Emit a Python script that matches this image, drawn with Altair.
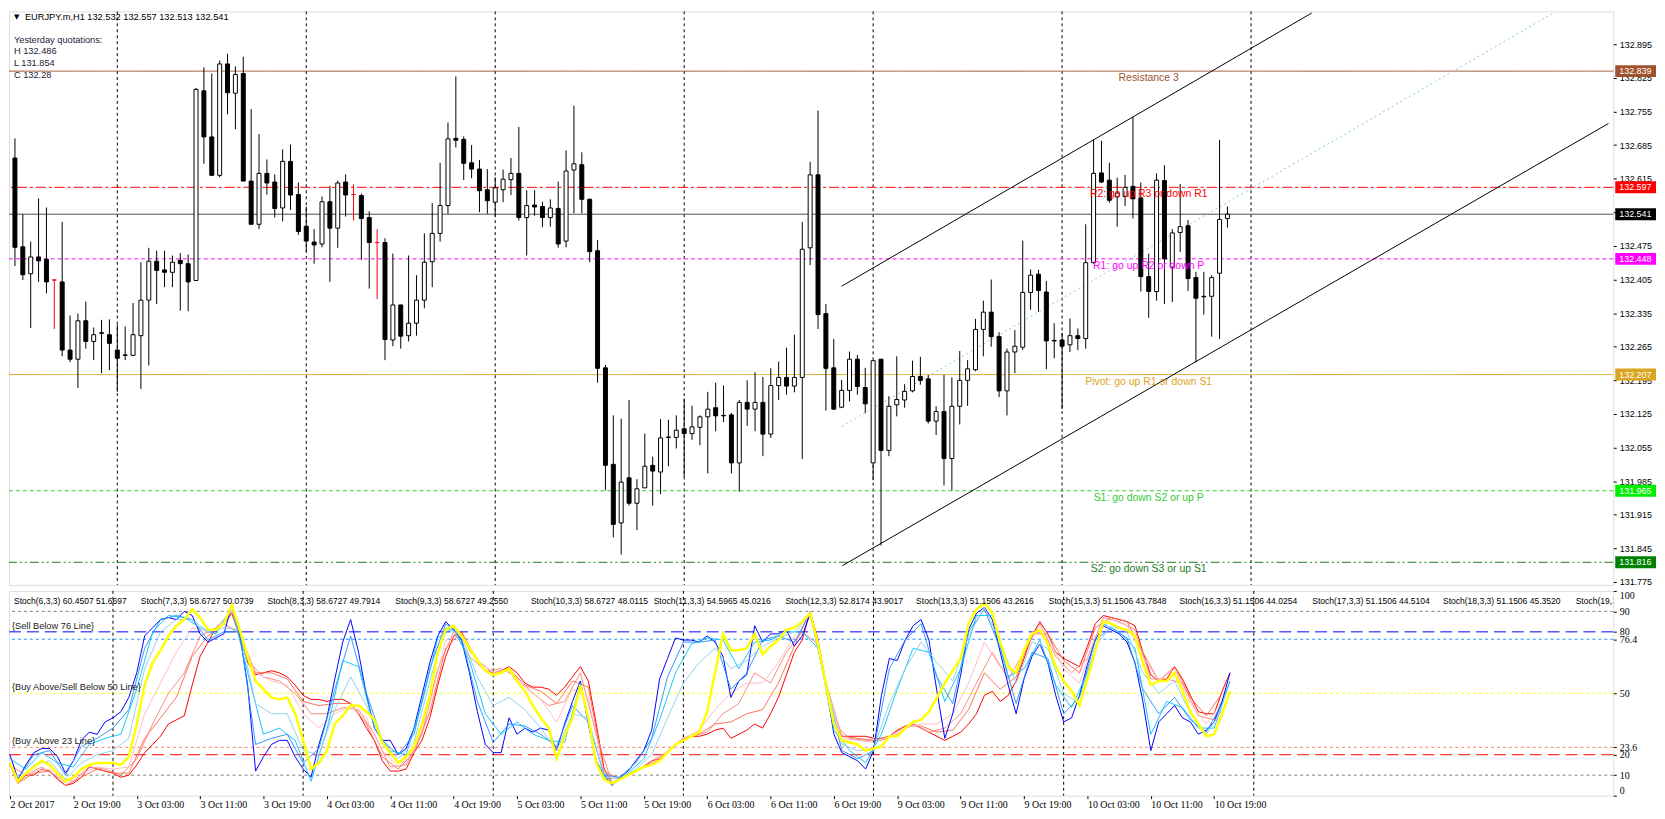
import json
import altair as alt
import pandas as pd

# ---------------- candle data (EURJPY H1) ----------------
OPEN = [132.658, 132.473, 132.417, 132.452, 132.447, 132.404, 132.400, 132.258, 132.239, 132.319,
        132.276, 132.294, 132.290, 132.258, 132.248, 132.247, 132.288, 132.362, 132.443, 132.425,
        132.420, 132.445, 132.438, 132.403, 132.798, 132.702, 132.622, 132.854, 132.793, 132.834,
        132.610, 132.520, 132.626, 132.608, 132.554, 132.651, 132.582, 132.516, 132.483, 132.479,
        132.567, 132.512, 132.608, 132.582, 132.580, 132.534, 132.482, 132.482, 132.279, 132.352,
        132.288, 132.314, 132.362, 132.442, 132.501, 132.559, 132.699, 132.697, 132.648, 132.635,
        132.592, 132.566, 132.592, 132.613, 132.626, 132.534, 132.560, 132.557, 132.534, 132.553,
        132.485, 132.633, 132.644, 132.572, 132.465, 132.221, 132.020, 131.898, 131.992, 131.939,
        131.971, 132.018, 132.004, 132.077, 132.076, 132.094, 132.084, 132.097, 132.119, 132.138,
        132.122, 132.123, 132.023, 132.149, 132.135, 132.149, 132.083, 132.184, 132.201, 132.183,
        132.201, 132.471, 132.623, 132.334, 132.221, 132.139, 132.174, 132.239, 132.180, 132.023,
        132.239, 132.049, 132.144, 132.154, 132.173, 132.203, 132.198, 132.110, 132.130, 132.032,
        132.141, 132.195, 132.217, 132.301, 132.337, 132.286, 132.173, 132.254, 132.264, 132.378,
        132.416, 132.379, 132.278, 132.279, 132.269, 132.288, 132.282, 132.440, 132.627, 132.612,
        132.577, 132.578, 132.599, 132.575, 132.411, 132.380, 132.611, 132.431, 132.503, 132.517,
        132.409, 132.370, 132.370, 132.418, 132.532]
HIGH = [132.699, 132.541, 132.484, 132.574, 132.555, 132.405, 132.525, 132.330, 132.334, 132.359,
        132.305, 132.321, 132.322, 132.311, 132.307, 132.356, 132.441, 132.471, 132.465, 132.465,
        132.455, 132.460, 132.457, 132.804, 132.847, 132.834, 132.861, 132.875, 132.849, 132.869,
        132.760, 132.708, 132.655, 132.624, 132.676, 132.686, 132.607, 132.557, 132.510, 132.578,
        132.600, 132.611, 132.624, 132.603, 132.584, 132.547, 132.510, 132.491, 132.459, 132.352,
        132.455, 132.414, 132.501, 132.564, 132.648, 132.732, 132.828, 132.703, 132.685, 132.654,
        132.635, 132.618, 132.634, 132.658, 132.723, 132.591, 132.591, 132.567, 132.572, 132.609,
        132.674, 132.767, 132.670, 132.574, 132.487, 132.227, 132.122, 132.115, 132.154, 131.989,
        132.084, 132.036, 132.114, 132.113, 132.122, 132.157, 132.142, 132.122, 132.171, 132.190,
        132.184, 132.127, 132.154, 132.195, 132.212, 132.202, 132.220, 132.234, 132.263, 132.290,
        132.525, 132.650, 132.757, 132.354, 132.281, 132.196, 132.255, 132.248, 132.221, 132.236,
        132.239, 132.162, 132.245, 132.187, 132.236, 132.244, 132.206, 132.141, 132.206, 132.201,
        132.256, 132.237, 132.323, 132.361, 132.405, 132.295, 132.261, 132.300, 132.486, 132.426,
        132.425, 132.402, 132.314, 132.294, 132.324, 132.303, 132.520, 132.697, 132.694, 132.648,
        132.617, 132.623, 132.744, 132.607, 132.459, 132.626, 132.643, 132.510, 132.604, 132.529,
        132.421, 132.421, 132.414, 132.696, 132.557]
LOW = [132.433, 132.404, 132.304, 132.400, 132.376, 132.302, 132.245, 132.233, 132.179, 132.261,
       132.237, 132.210, 132.216, 132.171, 132.237, 132.247, 132.177, 132.226, 132.354, 132.389,
       132.389, 132.340, 132.339, 132.403, 132.646, 132.622, 132.618, 132.749, 132.718, 132.610,
       132.520, 132.510, 132.582, 132.534, 132.526, 132.550, 132.498, 132.463, 132.438, 132.472,
       132.400, 132.471, 132.536, 132.528, 132.446, 132.386, 132.364, 132.237, 132.266, 132.261,
       132.276, 132.288, 132.345, 132.389, 132.484, 132.542, 132.680, 132.612, 132.616, 132.545,
       132.542, 132.536, 132.566, 132.581, 132.528, 132.455, 132.538, 132.514, 132.515, 132.471,
       132.472, 132.543, 132.543, 132.441, 132.190, 131.966, 131.868, 131.832, 131.934, 131.883,
       131.971, 131.934, 131.958, 132.016, 132.053, 131.994, 132.071, 132.060, 132.001, 132.089,
       132.108, 132.001, 131.963, 132.100, 132.089, 132.037, 132.075, 132.154, 132.165, 132.170,
       132.031, 132.435, 132.302, 132.132, 132.133, 132.137, 132.151, 132.165, 132.127, 131.987,
       131.851, 132.037, 132.120, 132.138, 132.170, 132.186, 132.105, 132.081, 131.976, 131.966,
       132.103, 132.142, 132.214, 132.245, 132.265, 132.160, 132.122, 132.210, 132.258, 132.342,
       132.338, 132.218, 132.241, 132.135, 132.254, 132.258, 132.261, 132.438, 132.606, 132.565,
       132.515, 132.558, 132.532, 132.380, 132.325, 132.361, 132.354, 132.358, 132.462, 132.381,
       132.233, 132.332, 132.286, 132.281, 132.513]
CLOSE = [132.472, 132.415, 132.452, 132.444, 132.400, 132.404, 132.258, 132.239, 132.319, 132.276,
         132.290, 132.293, 132.272, 132.241, 132.247, 132.290, 132.362, 132.443, 132.424, 132.420,
         132.441, 132.438, 132.400, 132.801, 132.702, 132.622, 132.854, 132.794, 132.832, 132.610,
         132.520, 132.626, 132.606, 132.553, 132.651, 132.581, 132.505, 132.485, 132.477, 132.567,
         132.512, 132.606, 132.581, 132.582, 132.532, 132.482, 132.482, 132.280, 132.352, 132.287,
         132.314, 132.362, 132.441, 132.501, 132.559, 132.698, 132.695, 132.647, 132.635, 132.590,
         132.569, 132.596, 132.614, 132.626, 132.534, 132.559, 132.556, 132.534, 132.554, 132.479,
         132.631, 132.646, 132.572, 132.463, 132.220, 132.018, 131.895, 131.983, 131.939, 131.969,
         132.016, 132.006, 132.075, 132.076, 132.091, 132.084, 132.098, 132.119, 132.135, 132.121,
         132.121, 132.023, 132.149, 132.135, 132.149, 132.083, 132.184, 132.201, 132.183, 132.201,
         132.468, 132.623, 132.332, 132.220, 132.135, 132.174, 132.239, 132.182, 132.146, 132.236,
         132.049, 132.141, 132.155, 132.172, 132.203, 132.195, 132.110, 132.130, 132.032, 132.141,
         132.195, 132.219, 132.301, 132.337, 132.286, 132.173, 132.254, 132.266, 132.378, 132.414,
         132.382, 132.277, 132.277, 132.266, 132.288, 132.282, 132.440, 132.626, 132.608, 132.570,
         132.585, 132.597, 132.573, 132.411, 132.380, 132.612, 132.448, 132.502, 132.515, 132.407,
         132.366, 132.369, 132.409, 132.530, 132.541]
RED_DOJI = [5, 43, 46]

# ---------------- stochastic ribbon ----------------
ALL_BARS = list(range(155))
EVEN_BARS = list(range(0, 155, 2))
ODD_BARS = list(range(1, 155, 2))
STOCH_BLUE = [20, 8, 15, 21, 23, 23, 19, 11, 17, 27, 31, 30, 36, 38, 41, 48, 60, 78, 82, 86,
              87, 86, 90, 88, 79, 75, 77, 79, 93, 79, 54, 12, 19, 25, 27, 27, 19, 13, 9, 25,
              38, 57, 75, 86, 70, 49, 33, 27, 27, 20, 23, 33, 49, 65, 78, 85, 81, 76, 60, 41,
              25, 21, 21, 38, 30, 33, 31, 33, 32, 22, 35, 46, 56, 35, 17, 10, 5, 9, 12, 17,
              22, 32, 57, 67, 77, 76, 76, 75, 78, 75, 68, 48, 56, 59, 83, 75, 79, 79, 81, 73,
              78, 89, 74, 54, 30, 21, 19, 17, 13, 22, 49, 67, 66, 76, 83, 86, 76, 51, 28, 40,
              59, 81, 89, 92, 86, 70, 54, 40, 57, 68, 74, 65, 49, 36, 38, 49, 64, 76, 83, 81,
              79, 75, 65, 46, 22, 36, 40, 44, 38, 36, 30, 32, 36, 46, 60]
STOCH_YELLOW = [16, 7, 11, 14, 17, 15, 11, 7, 9, 13, 15, 16, 16, 16, 15, 19, 35, 54, 65, 71,
                78, 83, 86, 91, 87, 81, 81, 84, 93, 81, 68, 56, 52, 48, 47, 48, 40, 27, 13, 16,
                22, 35, 39, 44, 44, 41, 37, 26, 21, 16, 19, 24, 35, 49, 70, 81, 83, 78, 72, 66,
                61, 59, 60, 62, 56, 51, 44, 38, 33, 18, 29, 38, 54, 38, 16, 8, 6, 8, 10, 12,
                14, 15, 17, 21, 25, 27, 29, 31, 41, 60, 79, 71, 71, 72, 79, 69, 73, 76, 81, 82,
                85, 89, 74, 54, 35, 27, 26, 25, 22, 23, 24, 29, 29, 33, 36, 37, 41, 48, 55, 61,
                67, 84, 91, 94, 89, 75, 63, 60, 71, 79, 81, 74, 63, 56, 51, 44, 57, 71, 85, 84,
                82, 81, 78, 65, 54, 56, 56, 60, 51, 41, 35, 29, 30, 40, 51]
STOCH_RED = [15, 6, 10, 10, 13, 12, 8, 5, 6, 9, 14, 13, 12, 11, 9, 10, 15, 21, 25, 29,
             35, 37, 39, 54, 68, 75, 82, 84, 89, 78, 65, 59, 60, 61, 60, 58, 54, 49, 47, 47,
             46, 47, 47, 45, 40, 33, 27, 17, 12, 12, 13, 21, 27, 38, 54, 68, 78, 80, 71, 66,
             61, 60, 61, 63, 60, 55, 53, 53, 52, 49, 53, 58, 63, 56, 35, 13, 6, 8, 10, 12,
             14, 17, 18, 21, 25, 28, 29, 29, 30, 32, 33, 28, 30, 32, 35, 33, 40, 48, 59, 70,
             76, 90, 76, 55, 35, 29, 29, 29, 29, 28, 28, 29, 32, 34, 35, 33, 31, 29, 27, 29,
             31, 35, 40, 49, 51, 46, 49, 56, 67, 78, 85, 79, 70, 67, 65, 63, 73, 84, 88, 87,
             86, 85, 83, 70, 59, 56, 57, 63, 57, 49, 41, 40, 40, 51, 60]
STOCH_LIGHTBLUE = [18, 13, 21, 16, 14, 25, 28, 30, 52, 80, 88, 87, 82, 79, 92, 60, 30, 33, 27, 7,
                   32, 66, 63, 33, 22, 20, 45, 77, 82, 66, 40, 30, 36, 30, 27, 26, 55, 16, 6, 11,
                   18, 37, 60, 74, 77, 76, 62, 75, 76, 80, 80, 72, 32, 22, 16, 30, 52, 72, 70, 46,
                   62, 88, 88, 58, 62, 76, 54, 43, 60, 84, 80, 72, 30, 46, 43, 33, 33, 56]
STOCH_SALMON = [15, 10, 14, 9, 7, 14, 13, 10, 18, 35, 50, 60, 78, 82, 90, 66, 58, 56, 50, 40,
                40, 43, 42, 30, 14, 15, 30, 62, 80, 68, 61, 62, 58, 50, 44, 46, 60, 30, 6, 10,
                14, 18, 25, 29, 31, 40, 45, 60, 55, 70, 80, 74, 35, 28, 27, 27, 30, 35, 31, 33,
                40, 55, 70, 57, 70, 84, 68, 60, 67, 87, 85, 81, 57, 57, 55, 39, 37, 56]
STOCH_MIDBLUE = [8, 20, 22, 10, 24, 28, 33, 42, 72, 86, 88, 86, 76, 80, 80, 25, 28, 30, 16, 23,
                 52, 78, 50, 27, 20, 30, 62, 84, 77, 46, 26, 35, 34, 30, 24, 44, 36, 10, 9, 16,
                 28, 58, 75, 75, 76, 52, 60, 76, 78, 75, 89, 54, 22, 18, 22, 62, 76, 84, 58, 45,
                 80, 91, 72, 45, 70, 67, 40, 48, 76, 82, 77, 52, 40, 48, 37, 31, 45]
STOCH_SKY = [7, 15, 17, 8, 16, 20, 22, 28, 62, 80, 86, 86, 80, 82, 81, 45, 40, 40, 22, 20,
             42, 58, 44, 26, 18, 26, 56, 82, 78, 58, 44, 48, 42, 33, 22, 40, 38, 9, 8, 13,
             20, 38, 55, 65, 72, 62, 66, 73, 77, 80, 89, 54, 25, 22, 23, 45, 62, 75, 65, 56,
             78, 92, 75, 55, 75, 72, 50, 45, 73, 83, 80, 60, 50, 56, 40, 30, 42]
STOCH_PINK = [6, 12, 13, 6, 11, 14, 13, 14, 40, 55, 70, 82, 80, 84, 80, 60, 56, 54, 40, 33,
              40, 44, 38, 22, 14, 22, 45, 76, 79, 66, 60, 62, 53, 47, 36, 52, 48, 10, 8, 12,
              16, 22, 28, 32, 42, 50, 55, 55, 65, 78, 89, 55, 28, 27, 26, 29, 33, 35, 35, 40,
              55, 75, 63, 60, 80, 78, 62, 55, 78, 86, 83, 68, 56, 62, 45, 35, 46]
STOCH_TOMATO = [6, 11, 12, 5, 9, 13, 11, 11, 28, 38, 48, 68, 78, 84, 79, 60, 60, 57, 46, 44,
                45, 45, 35, 19, 13, 21, 41, 72, 80, 66, 60, 62, 54, 51, 45, 56, 53, 12, 8, 12,
                17, 21, 28, 30, 35, 36, 40, 42, 55, 73, 90, 55, 29, 28, 27, 29, 34, 34, 31, 32,
                42, 60, 52, 58, 79, 79, 66, 60, 82, 87, 85, 70, 56, 63, 48, 39, 50]

STOCH_HEADER = ["Stoch(6,3,3) 60.4507 51.6697", "Stoch(7,3,3) 58.6727 50.0739",
                "Stoch(8,3,3) 58.6727 49.7914", "Stoch(9,3,3) 58.6727 49.2550",
                "Stoch(10,3,3) 58.6727 48.0115", "Stoch(11,3,3) 54.5965 45.0216",
                "Stoch(12,3,3) 52.8174 43.9017", "Stoch(13,3,3) 51.1506 43.2616",
                "Stoch(15,3,3) 51.1506 43.7848", "Stoch(16,3,3) 51.1506 44.0254",
                "Stoch(17,3,3) 51.1506 44.5104", "Stoch(18,3,3) 51.1506 45.3520",
                "Stoch(19,3,3)"]

# ---------------- levels / annotations ----------------
LEVEL_NAMES = ["Resistance 3", "R2: go up R3 or down R1", "R1: go up R2 or down P",
               "Pivot: go up R1 or down S1", "S1: go down S2 or up P", "S2: go down S3 or up S1"]
LEVEL_VALUES = [132.839, 132.597, 132.448, 132.207, 131.965, 131.816]
BID = 132.541
BOX_VALUES = [132.839, 132.597, 132.541, 132.448, 132.207, 131.965, 131.816]

CHANNEL_X0 = [105.0, 105.1, 105.0]
CHANNEL_X1 = [164.7, 202.4, 195.5]
CHANNEL_Y0 = [132.391, 131.809, 132.099]
CHANNEL_Y1 = [132.960, 132.730, 132.961]

SEPARATOR_BARS = [13, 37, 61, 85, 109, 133, 157]
TIME_LABEL_BARS = [0, 8, 16, 24, 32, 40, 48, 56, 64, 72, 80, 88, 96, 104, 112, 120, 128, 136, 144, 152]
TIME_LABELS = ["2 Oct 2017", "2 Oct 19:00", "3 Oct 03:00", "3 Oct 11:00", "3 Oct 19:00",
               "4 Oct 03:00", "4 Oct 11:00", "4 Oct 19:00", "5 Oct 03:00", "5 Oct 11:00",
               "5 Oct 19:00", "6 Oct 03:00", "6 Oct 11:00", "6 Oct 19:00", "9 Oct 03:00",
               "9 Oct 11:00", "9 Oct 19:00", "10 Oct 03:00", "10 Oct 11:00", "10 Oct 19:00"]
PRICE_TICKS = [132.895, 132.825, 132.755, 132.685, 132.615, 132.545, 132.475, 132.405, 132.335,
               132.265, 132.195, 132.125, 132.055, 131.985, 131.915, 131.845, 131.775]
OSC_TICKS = [100, 90, 80, 76.4, 50, 23.6, 20, 10, 0]
OSC_LEVELS = [90, 80, 76.4, 50, 23.6, 20, 10]
OSC_TEXTS = ["{Sell Below 76 Line}", "{Buy Above/Sell Below 50 Line}", "{Buy Above 23 Line}"]
OSC_TEXT_LEVELS = [80, 50, 23.6]
INFO_TEXTS = ["Yesterday quotations:", "H 132.486", "L 131.854", "C 132.28"]
HEADER_TEXT = "EURJPY.m,H1  132.532 132.557 132.513 132.541"

# ---------------- styles / layout ----------------
W = 1614
H_MAIN = 577
H_OSC = 206
SANS = "Liberation Sans"
SERIF = "Liberation Serif"
LEVEL_COLORS = ["#A0522D", "#FF0000", "#FF00FF", "#DAA520", "#33CC33", "#1E7B1E"]
LEVEL_DASHES = [[1, 0], [10, 3, 3, 3], [4, 3], [1, 0], [4, 3], [9, 3, 2, 3, 2, 3]]
BOX_COLORS = ["#A0522D", "#FF0000", "#000000", "#FF00FF", "#DAA520", "#00EE00", "#008000"]
OSC_LEVEL_COLORS = ["#808080", "#0000FF", "#1E90FF", "#FFFF00", "#FA8072", "#FF0000", "#808080"]
OSC_LEVEL_DASHES = [[3, 3], [12, 6], [3, 3], [3, 3], [3, 3], [12, 6], [3, 3]]
STOCH_HEADER_X_REF = [7, 135, 263, 392, 529, 653, 786, 918, 1052, 1184, 1318, 1450, 1584]
INFO_Y = [28.5, 40.3, 52.1, 64.0]

XS = alt.Scale(domain=[-0.125, 202.375], nice=False, zero=False)
YS = alt.Scale(domain=[131.7688, 132.9634], nice=False, zero=False)
OS = alt.Scale(domain=[0, 100], nice=False, zero=False)

PRICE_AXIS = alt.Axis(orient="right", values=PRICE_TICKS, format=".3f", tickSize=3,
                      labelPadding=3, domain=False, grid=False, title=None, labelOverlap=False,
                      labelFont=SANS, labelFontSize=9, labelColor="black", tickColor="black")


def mx(field):
    return alt.X(field, type="quantitative", scale=XS, axis=None, title=None)


def my(field):
    return alt.Y(field, type="quantitative", scale=YS, axis=PRICE_AXIS, title=None)


# ---------------- main price panel ----------------
candles = pd.DataFrame({"bar": ALL_BARS, "open": OPEN, "high": HIGH, "low": LOW, "close": CLOSE})
candles["kind"] = ["doji" if i in RED_DOJI else ("up" if c > o else "down")
                   for i, o, c in zip(candles["bar"], candles["open"], candles["close"])]
KIND_DOMAIN = ["up", "down", "doji"]

layers = []
layers.append(alt.Chart(pd.DataFrame({"bar": SEPARATOR_BARS})).mark_rule(
    color="black", strokeDash=[3, 3], strokeWidth=1).encode(x=mx("bar")))

for name, val, col, dash in zip(LEVEL_NAMES, LEVEL_VALUES, LEVEL_COLORS, LEVEL_DASHES):
    layers.append(alt.Chart(pd.DataFrame({"v": [val]})).mark_rule(
        color=col, strokeDash=dash, strokeWidth=1).encode(y=my("v")))
layers.append(alt.Chart(pd.DataFrame({"v": [BID]})).mark_rule(
    color="#505050", strokeWidth=1).encode(y=my("v")))

chan = pd.DataFrame({"x0": CHANNEL_X0, "x1": CHANNEL_X1, "y0": CHANNEL_Y0, "y1": CHANNEL_Y1,
                     "k": ["upper", "lower", "mid"]})
layers.append(alt.Chart(chan[chan.k != "mid"]).mark_rule(color="black", strokeWidth=1, clip=True)
              .encode(x=mx("x0"), x2="x1", y=my("y0"), y2="y1"))
layers.append(alt.Chart(chan[chan.k == "mid"]).mark_rule(color="#87C3E6", strokeWidth=1,
                                                         strokeDash=[2, 3], clip=True)
              .encode(x=mx("x0"), x2="x1", y=my("y0"), y2="y1"))

layers.append(alt.Chart(candles).mark_rule(strokeWidth=1, clip=True).encode(
    x=mx("bar"), y=my("low"), y2="high",
    stroke=alt.Stroke("kind:N", scale=alt.Scale(domain=KIND_DOMAIN, range=["black", "black", "red"]),
                      legend=None)))
layers.append(alt.Chart(candles).mark_bar(width=4, strokeWidth=1, clip=True).encode(
    x=mx("bar"), y=my("open"), y2="close",
    fill=alt.Fill("kind:N", scale=alt.Scale(domain=KIND_DOMAIN, range=["white", "black", "red"]),
                  legend=None),
    stroke=alt.Stroke("kind:N", scale=alt.Scale(domain=KIND_DOMAIN, range=["black", "black", "red"]),
                      legend=None)))

for name, val, col in zip(LEVEL_NAMES, LEVEL_VALUES, LEVEL_COLORS):
    layers.append(alt.Chart(pd.DataFrame({"v": [val], "t": [name]})).mark_text(
        font=SANS, fontSize=10.5, color=col, align="center", baseline="middle", dy=7)
        .encode(x=alt.datum(144), y=my("v"), text="t:N"))

info = pd.DataFrame({"t": INFO_TEXTS, "yy": INFO_Y})
layers.append(alt.Chart(info).mark_text(font=SANS, fontSize=9.3, color="#1C1C3A",
                                        align="left", baseline="middle")
              .encode(x=alt.value(5), y=alt.Y("yy:Q", scale=None), text="t:N"))
layers.append(alt.Chart(pd.DataFrame({"t": [HEADER_TEXT]}))
              .mark_text(font=SANS, fontSize=9.3, color="black", align="left", baseline="middle")
              .encode(x=alt.value(16), y=alt.value(5.5), text="t:N"))
layers.append(alt.Chart(pd.DataFrame({"t": ["\u25BC"]}))
              .mark_text(font="DejaVu Sans", fontSize=7, color="black", align="left", baseline="middle")
              .encode(x=alt.value(5), y=alt.value(6), text="t:N"))

boxes = pd.DataFrame({"v": BOX_VALUES, "c": BOX_COLORS,
                      "t": ["%.3f" % v for v in BOX_VALUES]})
layers.append(alt.Chart(boxes).mark_rect(yOffset=-6, y2Offset=6).encode(
    x=alt.value(W + 2), x2=alt.value(W + 43), y=my("v"), y2="v",
    fill=alt.Fill("c:N", scale=None)))
layers.append(alt.Chart(boxes).mark_text(font=SANS, fontSize=9, color="white", align="left",
                                         baseline="middle").encode(
    x=alt.value(W + 6), y=my("v"), text="t:N"))

main = alt.layer(*layers).properties(width=W, height=H_MAIN)

# ---------------- stochastic panel ----------------
label_expr = "%s[indexof(%s, datum.value)]" % (json.dumps(TIME_LABELS), json.dumps(TIME_LABEL_BARS))
TIME_AXIS = alt.Axis(values=TIME_LABEL_BARS, labelExpr=label_expr, labelAlign="left", labelPadding=1,
                     tickSize=3, domain=False, grid=False, title=None, labelOverlap=False,
                     labelFont=SERIF, labelFontSize=10, labelColor="black", tickColor="black",
                     labelBound=False, labelFlush=False)
OSC_AXIS = alt.Axis(orient="right", values=OSC_TICKS, labelExpr="'' + datum.value", labelFlush=True,
                    tickSize=3, labelPadding=3, domain=False, grid=False, title=None,
                    labelOverlap=False, labelFont=SERIF, labelFontSize=10, labelColor="black",
                    tickColor="black")


def ox(field):
    return alt.X(field, type="quantitative", scale=XS, axis=TIME_AXIS, title=None)


def oy(field):
    return alt.Y(field, type="quantitative", scale=OS, axis=OSC_AXIS, title=None)


olayers = []
for lv, col, dash in zip(OSC_LEVELS, OSC_LEVEL_COLORS, OSC_LEVEL_DASHES):
    olayers.append(alt.Chart(pd.DataFrame({"v": [lv]})).mark_rule(
        color=col, strokeDash=dash, strokeWidth=1).encode(y=oy("v")))
olayers.append(alt.Chart(pd.DataFrame({"bar": SEPARATOR_BARS})).mark_rule(
    color="black", strokeDash=[3, 3], strokeWidth=1).encode(x=ox("bar")))

series = [
    (ALL_BARS, STOCH_RED, "#FF0000", 1),
    (ODD_BARS, STOCH_TOMATO, "#FF6347", 0.9),
    (EVEN_BARS, STOCH_SALMON, "#FA8072", 0.9),
    (ODD_BARS, STOCH_PINK, "#FFB6C1", 0.9),
    (ALL_BARS, STOCH_BLUE, "#0000FF", 1),
    (ODD_BARS, STOCH_MIDBLUE, "#1E90FF", 0.9),
    (EVEN_BARS, STOCH_LIGHTBLUE, "#00BFFF", 0.9),
    (ODD_BARS, STOCH_SKY, "#87CEEB", 0.9),
    (ALL_BARS, STOCH_YELLOW, "#FFFF00", 2.5),
]
for bars, vals, col, sw in series:
    olayers.append(alt.Chart(pd.DataFrame({"bar": bars, "v": vals})).mark_line(
        color=col, strokeWidth=sw, clip=True).encode(x=ox("bar"), y=oy("v")))

olayers.append(alt.Chart(pd.DataFrame({"v": OSC_TEXT_LEVELS, "t": OSC_TEXTS})).mark_text(
    font=SANS, fontSize=9.3, color="#222222", align="left", baseline="middle", dy=-6)
    .encode(x=alt.value(3), y=oy("v"), text="t:N"))
hdr = pd.DataFrame({"t": STOCH_HEADER, "px": [(x - 2) * W / 1620.0 for x in STOCH_HEADER_X_REF]})
olayers.append(alt.Chart(hdr).mark_text(font=SANS, fontSize=8.6, color="black", align="left",
                                        baseline="middle", clip=True)
               .encode(x=alt.X("px:Q", scale=None), y=alt.value(10), text="t:N"))

osc = alt.layer(*olayers).properties(width=W, height=H_OSC)

chart = alt.vconcat(main, osc, spacing=2).properties(padding=0).configure_view(
    stroke="black", strokeWidth=1).configure(background="white")

chart.save("out.html", embed_options={"renderer": "svg", "actions": False})
